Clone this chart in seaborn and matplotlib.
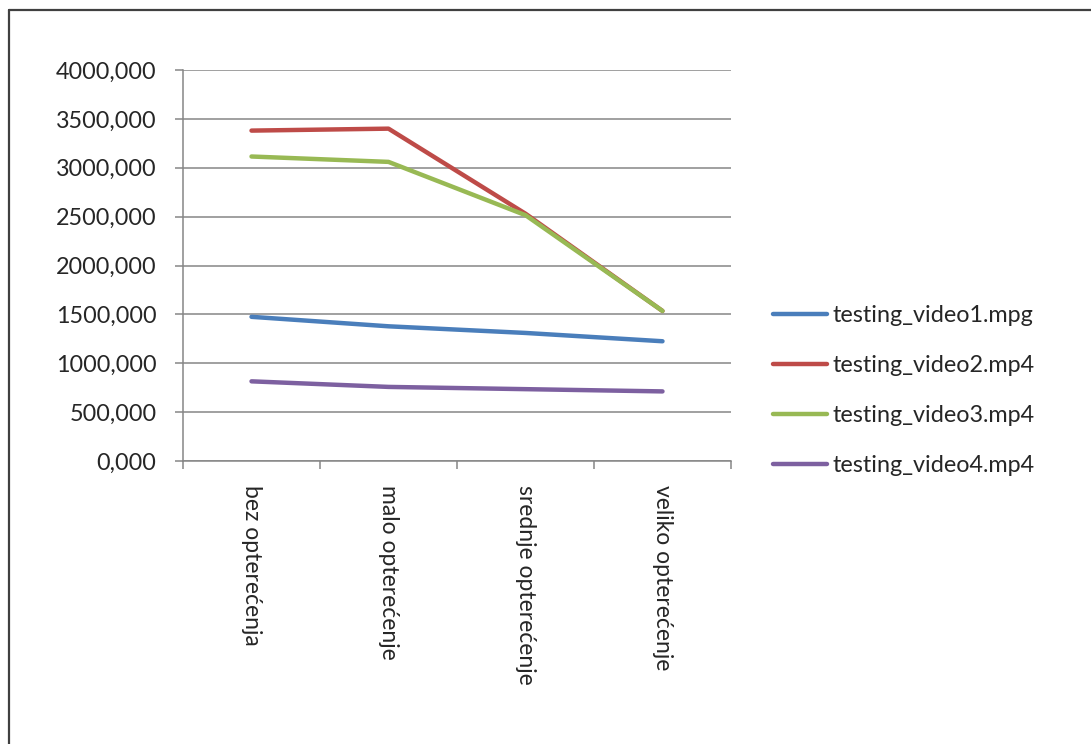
import numpy as np
import pandas as pd
import seaborn as sns
from matplotlib import pyplot as plt
from matplotlib.lines import Line2D
from matplotlib.ticker import FuncFormatter, FixedLocator


categories = ["bez opterećenja", "malo opterećenje", "srednje opterećenje", "veliko opterećenje"]
series_names = ["testing_video1.mpg", "testing_video2.mp4", "testing_video3.mp4", "testing_video4.mp4"]

video1 = [1475, 1378, 1310, 1225]
video2 = [3380, 3400, 2530, 1535]
video3 = [3115, 3060, 2515, 1535]
video4 = [815, 758, 735, 712]

colors = ["#4A7EBB", "#BE4B48", "#98B954", "#7D60A0"]


rows = []
for name, vals in zip(series_names, [video1, video2, video3, video4]):
    for cat, v in zip(categories, vals):
        rows.append({"kategorija": cat, "vrijednost": v, "serija": name})
df = pd.DataFrame(rows)

sns.set_style("white")
plt.rcParams['font.family'] = ['Lato', 'DejaVu Sans']

fig = plt.figure(figsize = (10.91, 7.44), dpi = 100, facecolor = 'white')
ax = fig.add_axes([183 / 1091, 1 - 461 / 744, (731 - 183) / 1091, (461 - 70) / 744])

sns.lineplot(data = df, x = "kategorija", y = "vrijednost", hue = "serija",
             hue_order = series_names, palette = colors, sort = False,
             linewidth = 3.2, ax = ax, legend = True)

ax.set_xlim(-0.5, 3.5)
ax.set_ylim(0, 4000)
ax.set_yticks(np.arange(0, 4001, 500))
ax.yaxis.set_major_formatter(FuncFormatter(lambda v, p: "{:.0f},000".format(v)))
ax.grid(axis = 'y', color = '#868686', linewidth = 1.1)
ax.set_axisbelow(True)

ax.set_xticks(range(len(categories)))
ax.set_xticklabels(categories, rotation = -90, va = 'top', ha = 'center', fontsize = 16.5)
ax.xaxis.set_minor_locator(FixedLocator(np.arange(-0.5, 3.6, 1)))
ax.tick_params(axis = 'x', which = 'major', length = 0, pad = 17)
ax.tick_params(axis = 'x', which = 'minor', length = 6, color = '#868686', width = 1.1, direction = 'out', bottom = True)
ax.tick_params(axis = 'y', length = 6, color = '#868686', width = 1.1, direction = 'out', left = True, labelsize = 16.8, pad = 13)

for s in ["top", "right"]:
    ax.spines[s].set_visible(False)
for s in ["left", "bottom"]:
    ax.spines[s].set_color('#868686')
    ax.spines[s].set_linewidth(1.1)

ax.set_xlabel("")
ax.set_ylabel("")

handles, labels = ax.get_legend_handles_labels()
ax.legend(handles, labels, loc = 'upper left', bbox_to_anchor = (764 / 1091, 1 - 296 / 744),
          bbox_transform = fig.transFigure, frameon = False, fontsize = 16.8,
          handlelength = 2.3, handletextpad = 0.25, labelspacing = 1.24, borderaxespad = 0)

# outer frame (top and left only visible in the crop)
fig.add_artist(Line2D([8.5 / 1091, 1], [1 - 9.5 / 744, 1 - 9.5 / 744], color = '#404040', linewidth = 1.6, transform = fig.transFigure))
fig.add_artist(Line2D([8.5 / 1091, 8.5 / 1091], [1 - 9.5 / 744, 0], color = '#404040', linewidth = 1.6, transform = fig.transFigure))

plt.savefig("out.png", dpi = 100, facecolor = 'white')
